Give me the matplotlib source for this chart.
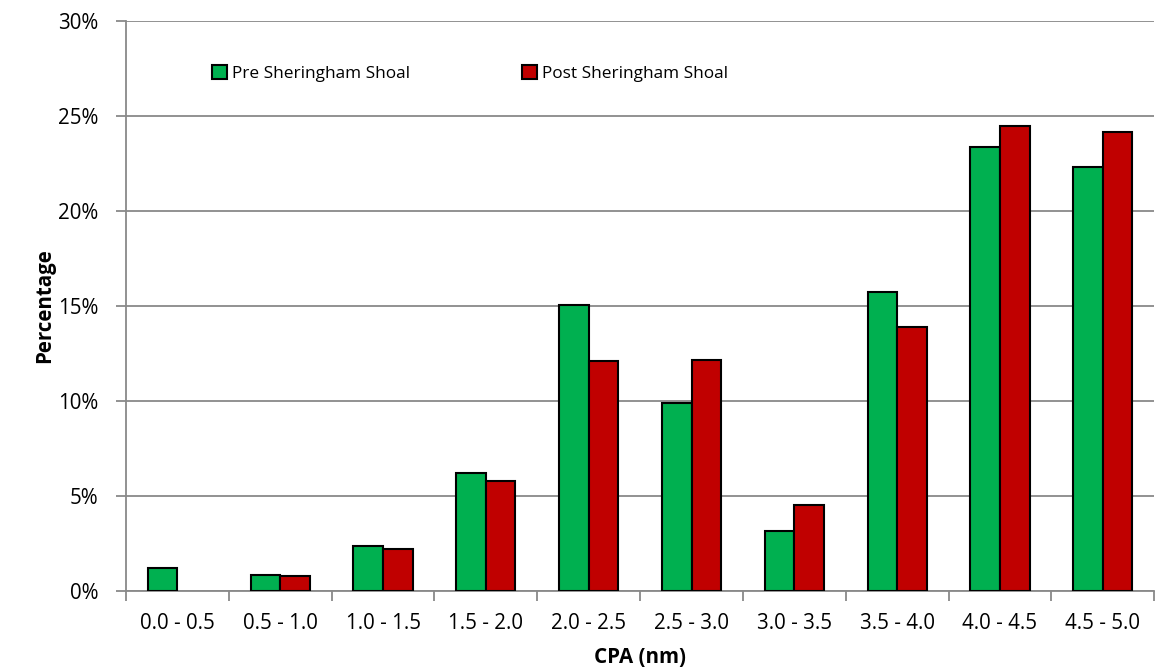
import numpy as np
import matplotlib.pyplot as plt
from matplotlib.ticker import PercentFormatter, FixedLocator, NullFormatter

plt.rcParams['font.family'] = ['Open Sans', 'DejaVu Sans']

cpa_bins = ['0.0 - 0.5', '0.5 - 1.0', '1.0 - 1.5', '1.5 - 2.0', '2.0 - 2.5',
            '2.5 - 3.0', '3.0 - 3.5', '3.5 - 4.0', '4.0 - 4.5', '4.5 - 5.0']
pre_shoal = [1.2, 0.83, 2.36, 6.22, 15.05, 9.87, 3.15, 15.72, 23.38, 22.3]
post_shoal = [0.0, 0.79, 2.2, 5.79, 12.1, 12.18, 4.54, 13.88, 24.47, 24.18]

fig = plt.figure(figsize=(11.73, 6.72), dpi=100)
ax = fig.add_axes([0.1074, 0.1205, 0.8766, 0.8483])

x = np.arange(len(cpa_bins))
w = 0.288
grey = '#898989'
fs = 14.8

# empty bins get no bar outline
pre = np.where(np.array(pre_shoal) > 0, pre_shoal, np.nan)
post = np.where(np.array(post_shoal) > 0, post_shoal, np.nan)

ax.bar(x - w / 2, pre, w, color='#00b050', edgecolor='black', linewidth=1.5,
       label='Pre Sheringham Shoal', zorder=3)
ax.bar(x + w / 2, post, w, color='#c00000', edgecolor='black', linewidth=1.5,
       label='Post Sheringham Shoal', zorder=3)

ax.set_xlim(-0.5, len(cpa_bins) - 0.5)
ax.set_ylim(0, 30)
ax.set_yticks(np.arange(0, 31, 5))
ax.yaxis.set_major_formatter(PercentFormatter(decimals=0))
ax.yaxis.grid(True, color=grey, linewidth=1.3, zorder=0)

# category labels centred, ticks on the boundaries between categories
ax.set_xticks(x)
ax.set_xticklabels(cpa_bins)
ax.tick_params(axis='x', which='major', length=0, pad=16)
ax.xaxis.set_minor_locator(FixedLocator(np.arange(-0.5, len(cpa_bins), 1.0)))
ax.xaxis.set_minor_formatter(NullFormatter())
ax.tick_params(axis='x', which='minor', length=7, width=1.3, color=grey)
ax.tick_params(axis='y', length=7, width=1.3, color=grey, pad=13)
ax.tick_params(labelsize=fs)

for side in ('top', 'right'):
    ax.spines[side].set_visible(False)
for side in ('left', 'bottom'):
    ax.spines[side].set_color(grey)
    ax.spines[side].set_linewidth(1.3)

ax.set_xlabel('CPA (nm)', fontsize=fs, fontweight='bold', labelpad=9)
ax.set_ylabel('Percentage', fontsize=fs, fontweight='bold', labelpad=2)

ax.legend(loc='upper left', bbox_to_anchor=(0.069, 0.95), ncol=2, frameon=False,
          fontsize=12.4, handlelength=0.85, handleheight=0.85, handletextpad=0.3,
          columnspacing=6.5)

fig.savefig('out.png', dpi=100)
